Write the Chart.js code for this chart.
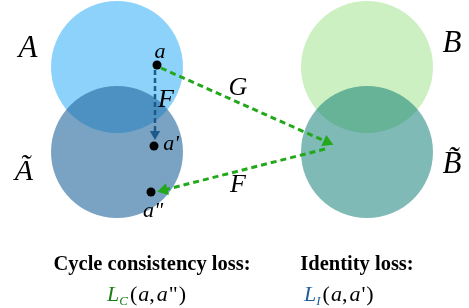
<!DOCTYPE html>
<html>
<head>
<meta charset="utf-8">
<script src="https://cdn.jsdelivr.net/npm/chart.js@4.4.0/dist/chart.umd.min.js"></script>
<style>
  html, body { margin: 0; padding: 0; background: #fff; }
  #wrap { width: 469px; height: 308px; }
</style>
</head>
<body>
<div id="wrap"><canvas id="diagram" width="469" height="308"></canvas></div>
<script>
// domain sets: circle centres in picture units (x right, y down)
const setNames = ['A', 'Ã', 'B', 'B̃'];
const setCenters = [
  { x: 117, y: 67 },
  { x: 117, y: 152 },
  { x: 367, y: 67 },
  { x: 367, y: 152 }
];

// sample points a, a', a''
const pointNames = ['a', "a'", 'a"'];
const samplePoints = [
  { x: 157, y: 65 },
  { x: 154, y: 146 },
  { x: 151, y: 192 }
];

// mappings drawn as dashed arrows
const mapNames = ['F', 'G', 'F'];
const identityPath = [{ x: 155, y: 70 }, { x: 155, y: 134 }];
const forwardPath = [{ x: 161, y: 68 }, { x: 327, y: 142 }];
const backwardPath = [{ x: 325, y: 149 }, { x: 164, y: 190 }];

const serif = '"Liberation Serif", "Times New Roman", serif';
const GREEN = '#22a81a';
const BLUE = '#1d5a8c';

function headAngle(path) {
  const p = path[path.length - 2], q = path[path.length - 1];
  return Math.atan2(q.x - p.x, -(q.y - p.y)) * 180 / Math.PI;
}

function arrow(path, color, width, dash, size) {
  return {
    type: 'scatter',
    data: path,
    showLine: true,
    borderColor: color,
    borderWidth: width,
    borderDash: dash,
    pointRadius: path.map((p, i) => i === path.length - 1 ? size : 0),
    pointStyle: 'triangle',
    pointRotation: headAngle(path),
    pointBackgroundColor: color,
    pointBorderWidth: 0,
    order: 5,
    clip: false
  };
}

// text labels
const labels = [
  { text: setNames[0], x: 28, y: 57, font: 'italic 31px ' + serif },
  { text: setNames[1], x: 24, y: 180, font: 'italic 30px ' + serif },
  { text: setNames[2], x: 452, y: 52, font: 'italic 31px ' + serif },
  { text: setNames[3], x: 452, y: 173, font: 'italic 31px ' + serif },
  { text: pointNames[0], x: 160, y: 58, font: 'italic 22px ' + serif },
  { text: pointNames[1], x: 171, y: 150, font: 'italic 22px ' + serif },
  { text: pointNames[2], x: 153, y: 217, font: 'italic 22px ' + serif },
  { text: mapNames[0], x: 166, y: 107, font: 'italic 26px ' + serif },
  { text: mapNames[1], x: 238, y: 95, font: 'italic 26px ' + serif },
  { text: mapNames[2], x: 238, y: 192, font: 'italic 26px ' + serif }
];

const captions = [
  { text: 'Cycle consistency loss:', x: 152, y: 270 },
  { text: 'Identity loss:', x: 357, y: 270 }
];

const formulas = [
  { x: 107, y: 301, color: '#1a7d1a', sub: 'C', close: '"' },
  { x: 304, y: 301, color: '#1f5e99', sub: 'I', close: "'" }
];

function drawRun(ctx, pieces, x, y) {
  for (const p of pieces) {
    ctx.font = p.font;
    ctx.fillStyle = p.color || '#000';
    ctx.fillText(p.t, x, y + (p.dy || 0));
    x += ctx.measureText(p.t).width + (p.gap || 0);
  }
}

const textPlugin = {
  id: 'diagramText',
  afterDatasetsDraw(chart) {
    const { ctx, scales: { x, y } } = chart;
    ctx.save();
    ctx.textBaseline = 'alphabetic';
    ctx.textAlign = 'center';
    ctx.fillStyle = '#000';
    for (const l of labels) {
      ctx.font = l.font;
      ctx.fillText(l.text, x.getPixelForValue(l.x), y.getPixelForValue(l.y));
    }
    ctx.font = 'bold 20.5px ' + serif;
    for (const c of captions) {
      ctx.fillText(c.text, x.getPixelForValue(c.x), y.getPixelForValue(c.y));
    }
    ctx.textAlign = 'left';
    const it = 'italic 22px ' + serif, rm = '22px ' + serif;
    for (const f of formulas) {
      drawRun(ctx, [
        { t: 'L', font: it, color: f.color },
        { t: f.sub, font: 'italic 13px ' + serif, color: f.color, dy: 4, gap: 2 },
        { t: '(', font: rm, gap: 1 },
        { t: 'a', font: it },
        { t: ',', font: rm, gap: 2 },
        { t: 'a', font: it, gap: 1 },
        { t: f.close, font: rm, gap: 1 },
        { t: ')', font: rm }
      ], x.getPixelForValue(f.x), y.getPixelForValue(f.y));
    }
    ctx.restore();
  }
};

new Chart(document.getElementById('diagram'), {
  type: 'scatter',
  data: {
    datasets: [
      {
        data: samplePoints,
        pointRadius: 4.5,
        pointBackgroundColor: '#000',
        pointBorderWidth: 0,
        order: 1,
        clip: false
      },
      arrow(identityPath, BLUE, 2.5, [5, 3], 6),
      arrow(forwardPath, GREEN, 3, [6, 4], 7),
      arrow(backwardPath, GREEN, 3, [6, 4], 7),
      {
        data: setCenters,
        pointRadius: 66,
        pointBackgroundColor: ['rgb(140,210,250)', 'rgba(33,102,155,0.6)', 'rgb(204,240,194)', 'rgba(0,117,109,0.5)'],
        pointBorderWidth: 0,
        order: 10,
        clip: false
      }
    ]
  },
  options: {
    responsive: false,
    animation: false,
    events: [],
    layout: { padding: 0, autoPadding: false },
    plugins: { legend: { display: false }, tooltip: { enabled: false } },
    scales: {
      x: { type: 'linear', min: 0, max: 469, display: false },
      y: { type: 'linear', min: 0, max: 308, reverse: true, display: false }
    }
  },
  plugins: [textPlugin]
});
</script>
</body>
</html>
